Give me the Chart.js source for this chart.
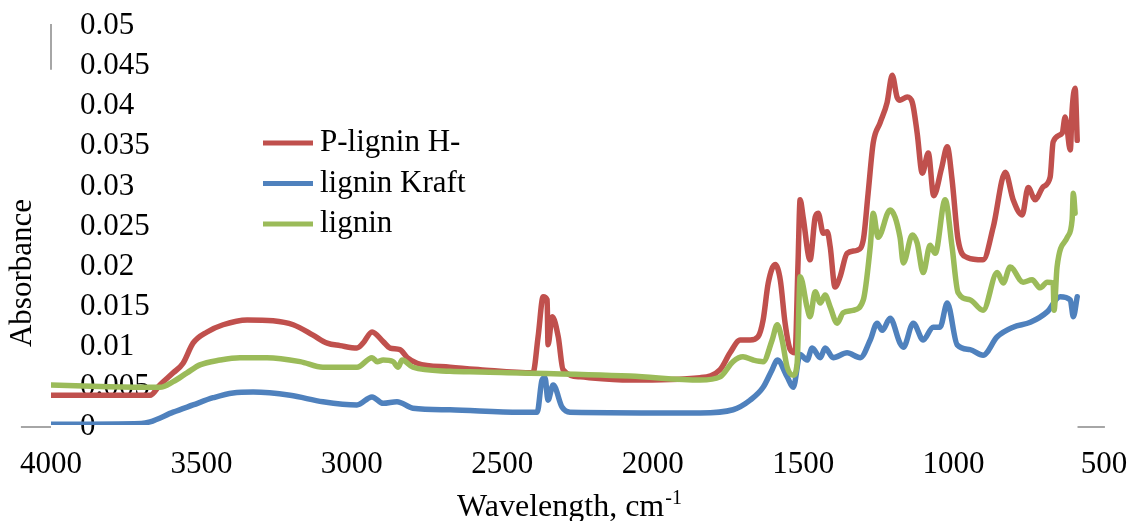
<!DOCTYPE html>
<html>
<head>
<meta charset="utf-8">
<script src="https://cdn.jsdelivr.net/npm/chart.js@4.4.1/dist/chart.umd.min.js"></script>
<style>
  html, body { margin: 0; padding: 0; background: #fff; }
  #wrap { width: 1132px; height: 521px; }
</style>
</head>
<body>
<div id="wrap"><canvas id="c" width="1132" height="521"></canvas></div>
<script>
/* ---- data: [wavenumber, absorbance] ---- */
const seriesNames = ['P-lignin H-', 'lignin Kraft', 'lignin'];
const seriesColors = ['#C0504D', '#4F81BD', '#9BBB59'];

const pLigninH = [
  [4000, 0.0037], [3671, 0.0037], [3638, 0.0050], [3594, 0.0065], [3561, 0.0077],
  [3528, 0.0102], [3481, 0.0116], [3428, 0.0125], [3348, 0.0131], [3262, 0.0130],
  [3195, 0.0125], [3129, 0.0112], [3082, 0.0102], [3039, 0.0099], [2983, 0.0096],
  [2963, 0.0102], [2933, 0.0116], [2896, 0.0104], [2873, 0.0096], [2840, 0.0094],
  [2816, 0.0084], [2783, 0.0077], [2674, 0.0072], [2574, 0.0069], [2398, 0.0065],
  [2381, 0.0110], [2364, 0.0160], [2351, 0.0156], [2348, 0.0100], [2334, 0.0135],
  [2314, 0.0110], [2298, 0.0069], [2241, 0.0060], [2075, 0.0056], [1842, 0.0059],
  [1776, 0.0069], [1743, 0.0090], [1709, 0.0106], [1676, 0.0106], [1650, 0.0110],
  [1633, 0.0131], [1616, 0.0177], [1593, 0.0200], [1576, 0.0181], [1560, 0.0127],
  [1543, 0.0094], [1527, 0.0090], [1517, 0.0202], [1510, 0.0281], [1500, 0.0259],
  [1477, 0.0206], [1460, 0.0259], [1450, 0.0264], [1433, 0.0239], [1420, 0.0241],
  [1410, 0.0222], [1394, 0.0172], [1377, 0.0185], [1354, 0.0214], [1320, 0.0218],
  [1300, 0.0231], [1284, 0.0289], [1267, 0.0352], [1244, 0.0377], [1221, 0.0402],
  [1204, 0.0436], [1188, 0.0409], [1178, 0.0405], [1154, 0.0409], [1137, 0.0402],
  [1121, 0.0364], [1104, 0.0314], [1084, 0.0339], [1066, 0.0286], [1040, 0.0320],
  [1021, 0.0347], [1005, 0.0306], [985, 0.0231], [955, 0.0209], [902, 0.0206],
  [868, 0.0247], [828, 0.0315], [802, 0.0281], [772, 0.0262], [752, 0.0296],
  [729, 0.0281], [702, 0.0297], [679, 0.0309], [669, 0.0353], [639, 0.0364],
  [629, 0.0384], [612, 0.0343], [606, 0.0393], [596, 0.0420], [589, 0.0355]
];

const ligninKraft = [
  [4000, 0.0001], [3700, 0.0002], [3671, 0.0004], [3594, 0.0016], [3528, 0.0025],
  [3461, 0.0034], [3395, 0.0040], [3328, 0.0041], [3205, 0.0037], [3096, 0.0029],
  [2983, 0.0025], [2933, 0.0035], [2896, 0.0027], [2850, 0.0029], [2797, 0.0021],
  [2674, 0.0019], [2441, 0.0016], [2384, 0.0016], [2368, 0.0056], [2358, 0.0059],
  [2348, 0.0031], [2331, 0.0050], [2301, 0.0022], [2275, 0.0016], [1842, 0.0015],
  [1733, 0.0019], [1676, 0.0031], [1633, 0.0047], [1603, 0.0069], [1586, 0.0081],
  [1553, 0.0060], [1533, 0.0047], [1510, 0.0088], [1487, 0.0081], [1470, 0.0096],
  [1443, 0.0084], [1427, 0.0096], [1400, 0.0084], [1354, 0.0090], [1310, 0.0084],
  [1277, 0.0106], [1254, 0.0127], [1237, 0.0118], [1211, 0.0133], [1178, 0.0102],
  [1167, 0.0097], [1134, 0.0127], [1101, 0.0106], [1068, 0.0122], [1045, 0.0122],
  [1021, 0.0152], [988, 0.0100], [945, 0.0094], [902, 0.0087], [855, 0.0110],
  [802, 0.0122], [745, 0.0128], [689, 0.0141], [646, 0.0160], [612, 0.0156],
  [602, 0.0135], [589, 0.0160]
];

const lignin = [
  [4000, 0.0050], [3837, 0.0048], [3671, 0.0047], [3638, 0.0047], [3594, 0.0054],
  [3548, 0.0065], [3505, 0.0075], [3438, 0.0081], [3372, 0.0084], [3282, 0.0084],
  [3172, 0.0079], [3096, 0.0072], [2983, 0.0072], [2933, 0.0084], [2916, 0.0079],
  [2896, 0.0081], [2863, 0.0079], [2846, 0.0072], [2833, 0.0081], [2797, 0.0072],
  [2674, 0.0067], [2574, 0.0066], [2075, 0.0061], [1842, 0.0056], [1776, 0.0060],
  [1733, 0.0079], [1700, 0.0085], [1666, 0.0081], [1633, 0.0079], [1603, 0.0106],
  [1586, 0.0125], [1570, 0.0106], [1553, 0.0072], [1533, 0.0062], [1520, 0.0077],
  [1510, 0.0185], [1487, 0.0147], [1477, 0.0135], [1460, 0.0166], [1443, 0.0152],
  [1427, 0.0162], [1410, 0.0147], [1387, 0.0127], [1367, 0.0140], [1334, 0.0143],
  [1300, 0.0156], [1277, 0.0222], [1267, 0.0264], [1251, 0.0234], [1211, 0.0268],
  [1178, 0.0234], [1167, 0.0202], [1137, 0.0237], [1121, 0.0227], [1101, 0.0190],
  [1078, 0.0224], [1061, 0.0214], [1028, 0.0281], [1005, 0.0222], [985, 0.0165],
  [945, 0.0156], [902, 0.0143], [855, 0.0190], [835, 0.0177], [812, 0.0197],
  [769, 0.0178], [739, 0.0181], [712, 0.0171], [689, 0.0178], [669, 0.0177],
  [666, 0.0143], [656, 0.0197], [622, 0.0234], [606, 0.0256], [602, 0.0289],
  [596, 0.0264]
];

const xTicks = [4000, 3500, 3000, 2500, 2000, 1500, 1000, 500];
const yTicks = [0, 0.005, 0.01, 0.015, 0.02, 0.025, 0.03, 0.035, 0.04, 0.045, 0.05];
const yTickLabels = ['0', '0.005', '0.01', '0.015', '0.02', '0.025', '0.03', '0.035', '0.04', '0.045', '0.05'];

const FONT = '"Liberation Serif", "Times New Roman", serif';
const toXY = arr => arr.map(p => ({ x: p[0], y: p[1] }));

/* ---- extra drawing: axis stubs, legend, titles ---- */
const extras = {
  id: 'extras',
  afterDraw(chart) {
    const { ctx, scales: { x, y } } = chart;
    ctx.save();

    // stray axis segments seen in the original
    ctx.strokeStyle = '#a6a6a6';
    ctx.lineWidth = 2;
    const y0 = y.getPixelForValue(0) + 2;
    const x0 = x.getPixelForValue(4000);
    ctx.beginPath();
    ctx.moveTo(x.getPixelForValue(4100), y0);
    ctx.lineTo(x0, y0);
    ctx.moveTo(x.getPixelForValue(588), y0);
    ctx.lineTo(x.getPixelForValue(497), y0);
    ctx.moveTo(x0, y.getPixelForValue(0.05));
    ctx.lineTo(x0, y.getPixelForValue(0.0443));
    ctx.stroke();

    // legend
    ctx.font = '31px ' + FONT;
    ctx.fillStyle = '#000';
    ctx.textBaseline = 'middle';
    ctx.textAlign = 'left';
    ctx.lineWidth = 5;
    seriesNames.forEach((name, i) => {
      const ly = 143 + i * 40.5;
      ctx.strokeStyle = seriesColors[i];
      ctx.beginPath();
      ctx.moveTo(263, ly);
      ctx.lineTo(313, ly);
      ctx.stroke();
      ctx.fillText(name, 320, ly);
    });

    // y title
    ctx.save();
    ctx.translate(23, 273);
    ctx.rotate(-Math.PI / 2);
    ctx.textAlign = 'center';
    ctx.fillText('Absorbance', 0, 0);
    ctx.restore();

    // x title with superscript
    ctx.textBaseline = 'alphabetic';
    const main = 'Wavelength, cm';
    const sup = '-1';
    ctx.font = '32px ' + FONT;
    const wMain = ctx.measureText(main).width;
    ctx.font = '20px ' + FONT;
    const wSup = ctx.measureText(sup).width;
    const sx = 569 - (wMain + wSup) / 2;
    ctx.font = '32px ' + FONT;
    ctx.fillText(main, sx, 516);
    ctx.font = '20px ' + FONT;
    ctx.fillText(sup, sx + wMain + 1, 504);

    ctx.restore();
  }
};

new Chart(document.getElementById('c'), {
  type: 'line',
  data: {
    datasets: [
      { label: seriesNames[0], data: toXY(pLigninH), borderColor: seriesColors[0], order: 1 },
      { label: seriesNames[1], data: toXY(ligninKraft), borderColor: seriesColors[1], order: 2 },
      { label: seriesNames[2], data: toXY(lignin), borderColor: seriesColors[2], order: 0 }
    ]
  },
  options: {
    responsive: false,
    animation: false,
    devicePixelRatio: 1,
    layout: { padding: { top: 24, right: 28, left: 0, bottom: 0 } },
    elements: {
      line: { borderWidth: 5.5, cubicInterpolationMode: 'monotone', borderCapStyle: 'round', borderJoinStyle: 'round' },
      point: { radius: 0 }
    },
    plugins: { legend: { display: false }, tooltip: { enabled: false } },
    scales: {
      x: {
        type: 'linear',
        reverse: true,
        min: 500,
        max: 4000,
        grid: { display: false, drawTicks: false },
        border: { display: false },
        afterBuildTicks: s => { s.ticks = xTicks.map(v => ({ value: v })); },
        afterFit: s => { s.height = 96; s.paddingLeft = 0; s.paddingRight = 0; },
        ticks: {
          color: '#000',
          padding: 21,
          maxRotation: 0,
          autoSkip: false,
          font: { family: FONT, size: 31 },
          callback: v => String(v)
        }
      },
      y: {
        min: 0,
        max: 0.05,
        z: 1,
        grid: { display: false, drawTicks: false },
        border: { display: false },
        afterBuildTicks: s => { s.ticks = yTicks.map(v => ({ value: v })); },
        afterFit: s => { s.width = 51; s.paddingTop = 0; s.paddingBottom = 0; },
        ticks: {
          mirror: true,
          padding: 29,
          labelOffset: 2,
          autoSkip: false,
          color: '#000',
          font: { family: FONT, size: 31 },
          callback: (v, i) => yTickLabels[i]
        }
      }
    }
  },
  plugins: [extras]
});
</script>
</body>
</html>
